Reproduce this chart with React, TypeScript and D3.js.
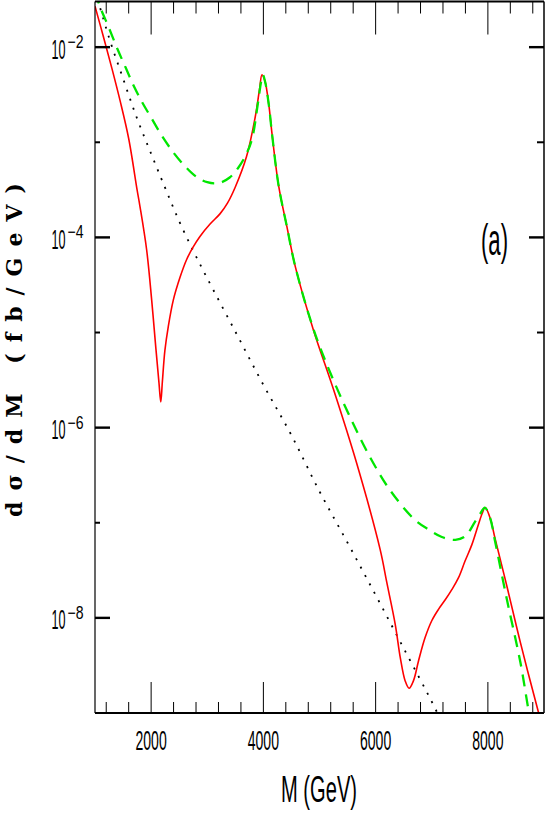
import React, { useEffect } from 'react'
import * as d3 from 'd3'

// masses (GeV) and log10 of dσ/dM (fb/GeV)
const redMass = [1000, 1150, 1300, 1450, 1600, 1750, 1800, 1920, 2010, 2085, 2140, 2172, 2200, 2245, 2305, 2395, 2515, 2635, 2750, 2870, 3050, 3230, 3360, 3500, 3700, 3850, 3930, 3975, 4030, 4100, 4150, 4270, 4420, 4570, 4890, 5250, 5660, 6080, 6200, 6350, 6440, 6525, 6597, 6675, 6765, 6880, 7000, 7120, 7240, 7360, 7475, 7595, 7715, 7830, 7900, 7952, 8040, 8130, 8340, 8580, 8900, 9000]
const redLog = [-1.57, -1.89, -2.22, -2.57, -2.96, -3.50, -3.67, -4.13, -4.66, -5.17, -5.53, -5.73, -5.52, -5.19, -4.94, -4.66, -4.42, -4.23, -4.10, -3.99, -3.86, -3.75, -3.64, -3.47, -3.15, -2.75, -2.45, -2.29, -2.36, -2.62, -2.89, -3.45, -3.89, -4.31, -4.97, -5.60, -6.37, -7.28, -7.63, -8.07, -8.42, -8.66, -8.74, -8.66, -8.45, -8.21, -8.03, -7.91, -7.81, -7.70, -7.58, -7.40, -7.23, -7.02, -6.90, -6.84, -6.95, -7.17, -7.67, -8.26, -8.99, -9.2]

const greenMass = [1000, 1100, 1250, 1400, 1550, 1700, 1850, 2000, 2200, 2400, 2600, 2800, 3000, 3200, 3400, 3550, 3700, 3800, 3900, 3960, 3990, 4030, 4100, 4150, 4270, 4420, 4570, 4890, 5190, 5545, 5900, 6260, 6700, 6940, 7180, 7420, 7600, 7770, 7870, 7945, 8040, 8130, 8340, 8580, 8730, 8800]
const greenLog = [-1.42, -1.59, -1.80, -2.02, -2.22, -2.42, -2.59, -2.74, -2.94, -3.11, -3.25, -3.36, -3.42, -3.43, -3.37, -3.27, -3.12, -2.96, -2.60, -2.36, -2.29, -2.36, -2.62, -2.89, -3.45, -3.89, -4.31, -4.96, -5.42, -5.89, -6.31, -6.66, -6.97, -7.07, -7.15, -7.18, -7.14, -6.99, -6.90, -6.84, -6.95, -7.20, -7.81, -8.47, -8.99, -9.2]

const dotMass = [1000, 1250, 1500, 1750, 2000, 2250, 2500, 2750, 3000, 3500, 4000, 4500, 5000, 5500, 6000, 6500, 7000, 7100]
const dotLog = [-1.40, -1.90, -2.33, -2.75, -3.12, -3.48, -3.83, -4.14, -4.43, -4.99, -5.55, -6.08, -6.67, -7.21, -7.76, -8.32, -8.88, -9.0]

const xMajor = [2000, 4000, 6000, 8000]
const xMinor = [1200, 1600, 2400, 2800, 3200, 3600, 4400, 4800, 5200, 5600, 6400, 6800, 7200, 7600, 8400, 8800]
const yMajorExp = [-2, -4, -6, -8]
const yMinorExp = [-3, -5, -7]

type Pt = { m: number, v: number }

export default function App() {
    useEffect(() => {
        document.body.style.margin = '0'
    }, [])

    const width = 545
    const height = 817
    const left = 95, right = 544, top = 1.5, bottom = 713

    const x = d3.scaleLinear().domain([1000, 9000]).range([left, right])
    const y = d3.scaleLog().domain([1e-9, Math.pow(10, -1.52)]).range([bottom, top])

    const toPts = (ms: number[], ls: number[]): Pt[] => ms.map((m, i) => ({ m, v: Math.pow(10, ls[i]) }))

    const line = d3.line<Pt>()
        .x(d => x(d.m))
        .y(d => y(d.v))
        .curve(d3.curveCatmullRom.alpha(0.5))

    const font = "'Liberation Sans', Arial, sans-serif"

    return (
        <svg width={width} height={height} style={{ display: 'block', background: '#fff' }}>
            <defs>
                <clipPath id='plotclip'>
                    <rect x={left} y={top} width={right - left} height={bottom - top} />
                </clipPath>
            </defs>

            <g clipPath='url(#plotclip)' fill='none'>
                <path d={line(toPts(dotMass, dotLog)) ?? ''} stroke='#000' strokeWidth={1.8} strokeDasharray='2 7.5' />
                <path d={line(toPts(redMass, redLog)) ?? ''} stroke='#ff0000' strokeWidth={1.6} />
                <path d={line(toPts(greenMass, greenLog)) ?? ''} stroke='#00e600' strokeWidth={2.3} strokeDasharray='12 8' />
            </g>

            {/* frame */}
            <line x1={left} x2={right} y1={bottom} y2={bottom} stroke='#000' strokeWidth={2.2} />
            <line x1={left} x2={right} y1={top} y2={top} stroke='#000' strokeWidth={2.2} />
            <line x1={left} x2={left} y1={top} y2={bottom} stroke='#000' strokeWidth={1.2} />
            <line x1={right} x2={right} y1={top} y2={bottom} stroke='#000' strokeWidth={1.5} />

            {/* x ticks */}
            {xMajor.map(t => (
                <g key={'xM' + t}>
                    <line x1={x(t)} x2={x(t)} y1={bottom} y2={bottom - 31} stroke='#000' strokeWidth={1} />
                    <line x1={x(t)} x2={x(t)} y1={top} y2={top + 33} stroke='#000' strokeWidth={1} />
                    <text transform={`translate(${x(t)},750) scale(0.52,1)`} textAnchor='middle'
                        fontFamily={font} fontSize={27}>{t}</text>
                </g>
            ))}
            {xMinor.map(t => (
                <g key={'xm' + t}>
                    <line x1={x(t)} x2={x(t)} y1={bottom} y2={bottom - 11} stroke='#000' strokeWidth={1} />
                    <line x1={x(t)} x2={x(t)} y1={top} y2={top + 12} stroke='#000' strokeWidth={1} />
                </g>
            ))}

            {/* y ticks */}
            {yMajorExp.map(e => {
                const ty = y(Math.pow(10, e))
                return (
                    <g key={'yM' + e}>
                        <line x1={left} x2={left + 15} y1={ty} y2={ty} stroke='#000' strokeWidth={2.4} />
                        <line x1={right - 15} x2={right} y1={ty} y2={ty} stroke='#000' strokeWidth={2.4} />
                        <text transform={`translate(51.5,${ty + 11.5}) scale(0.467,1)`}
                            fontFamily={font} fontSize={27}>10</text>
                        <text transform={`translate(67.5,${ty + 1}) scale(0.78,1)`}
                            fontFamily={font} fontSize={18}>{'\u2212' + (-e)}</text>
                    </g>
                )
            })}
            {yMinorExp.map(e => {
                const ty = y(Math.pow(10, e))
                return (
                    <g key={'ym' + e}>
                        <line x1={left} x2={left + 5} y1={ty} y2={ty} stroke='#000' strokeWidth={2} />
                        <line x1={right - 7} x2={right} y1={ty} y2={ty} stroke='#000' strokeWidth={2} />
                    </g>
                )
            })}

            {/* axis titles */}
            <text x={281} y={801.5} fontFamily={font} fontSize={36}
                textLength={76} lengthAdjust='spacingAndGlyphs'>M (GeV)</text>
            <text transform='translate(22,350) rotate(-90)' textAnchor='middle'
                fontFamily="'DejaVu Serif', serif" fontWeight='bold' fontSize={22}
                textLength={334} lengthAdjust='spacing'>dσ/dM (fb/GeV)</text>

            <text x={481} y={255} fontFamily={font} fontSize={45}
                textLength={27} lengthAdjust='spacingAndGlyphs'>(a)</text>
        </svg>
    )
}
